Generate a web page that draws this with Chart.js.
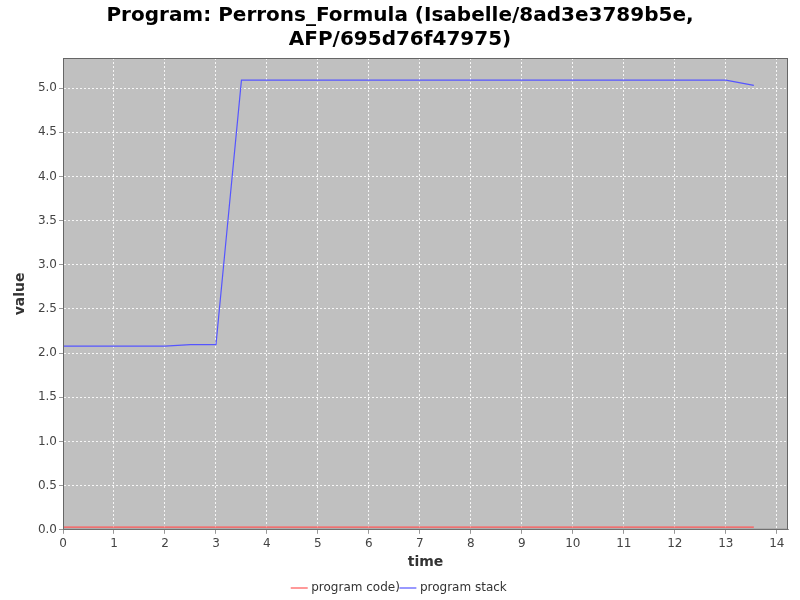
<!DOCTYPE html>
<html>
<head>
<meta charset="utf-8">
<script src="https://cdn.jsdelivr.net/npm/chart.js@4/dist/chart.umd.min.js"></script>
<style>
  html, body { margin: 0; padding: 0; background: #fff; }
  #wrap { width: 800px; height: 600px; }
</style>
</head>
<body>
<div id="wrap"><canvas id="chart" width="800" height="600"></canvas></div>
<script>
// data
const times = [0, 2, 2.5, 3, 3.5, 13, 13.55];
const programStack = [2.08, 2.08, 2.095, 2.095, 5.09, 5.09, 5.03];
const programCode = [0.03, 0.03, 0.03, 0.03, 0.03, 0.03, 0.03];
const xTicks = [0, 1, 2, 3, 4, 5, 6, 7, 8, 9, 10, 11, 12, 13, 14];
const yTicks = [0, 0.5, 1, 1.5, 2, 2.5, 3, 3.5, 4, 4.5, 5];

const toPoints = (ys) => times.map((t, i) => ({ x: t, y: ys[i] }));

// grey plot background with dark outline, like the original
const plotBg = {
    id: 'plotBg',
    beforeDraw(chart) {
        const { ctx, chartArea: a } = chart;
        ctx.save();
        ctx.fillStyle = '#c0c0c0';
        ctx.fillRect(a.left, a.top, a.right - a.left, a.bottom - a.top);
        ctx.restore();
    },
    afterDraw(chart) {
        const { ctx, chartArea: a } = chart;
        ctx.save();
        ctx.strokeStyle = '#666';
        ctx.lineWidth = 1;
        ctx.strokeRect(a.left + 0.5, a.top + 0.5, a.right - a.left - 1, a.bottom - a.top - 1);
        ctx.restore();
    }
};

new Chart(document.getElementById('chart'), {
    type: 'line',
    data: {
        datasets: [
            {
                label: 'program code)',
                data: toPoints(programCode),
                borderColor: '#ff5555',
                backgroundColor: '#ff5555',
                borderWidth: 1.2,
                pointRadius: 0,
                tension: 0
            },
            {
                label: 'program stack',
                data: toPoints(programStack),
                borderColor: '#5555ff',
                backgroundColor: '#5555ff',
                borderWidth: 1.2,
                pointRadius: 0,
                tension: 0
            }
        ]
    },
    options: {
        responsive: false,
        animation: false,
        layout: { padding: { left: 12, right: 12, top: 4, bottom: -4 } },
        plugins: {
            title: {
                display: true,
                text: ['Program: Perrons_Formula (Isabelle/8ad3e3789b5e,', 'AFP/695d76f47975)'],
                color: '#000',
                font: { family: 'DejaVu Sans', size: 20, weight: 'bold', lineHeight: 1.2 },
                padding: { top: 0, bottom: 6 }
            },
            legend: {
                position: 'bottom',
                labels: {
                    usePointStyle: true,
                    pointStyle: 'line',
                    boxWidth: 16,
                    color: '#333',
                    font: { family: 'DejaVu Sans', size: 12 },
                    padding: 2
                }
            },
            tooltip: { enabled: false }
        },
        scales: {
            x: {
                type: 'linear',
                min: 0,
                max: 14.22,
                afterBuildTicks: (s) => { s.ticks = xTicks.map(v => ({ value: v })); },
                ticks: {
                    color: '#444',
                    font: { family: 'DejaVu Sans', size: 12 },
                    padding: 3,
                    maxRotation: 0,
                    callback: (v) => String(v)
                },
                grid: {
                    color: 'rgba(255,255,255,0.85)',
                    tickColor: '#999',
                    tickLength: 4,
                    lineWidth: 1
                },
                border: { display: true, color: '#999', dash: [2, 2] },
                title: {
                    display: true,
                    text: 'time',
                    color: '#333',
                    font: { family: 'DejaVu Sans', size: 14, weight: 'bold' },
                    padding: { top: 0, bottom: 9 }
                }
            },
            y: {
                type: 'linear',
                min: 0,
                max: 5.34,
                afterBuildTicks: (s) => { s.ticks = yTicks.map(v => ({ value: v })); },
                afterFit: (s) => { s.width = 51; },
                ticks: {
                    color: '#444',
                    font: { family: 'DejaVu Sans', size: 12 },
                    padding: 2,
                    callback: (v) => Number(v).toFixed(1)
                },
                grid: {
                    color: 'rgba(255,255,255,0.85)',
                    tickColor: '#999',
                    tickLength: 4,
                    lineWidth: 1
                },
                border: { display: true, color: '#999', dash: [2, 2] },
                title: {
                    display: true,
                    text: 'value',
                    color: '#333',
                    font: { family: 'DejaVu Sans', size: 14, weight: 'bold' },
                    padding: { top: 0, bottom: 2 }
                }
            }
        }
    },
    plugins: [plotBg]
});
</script>
</body>
</html>
